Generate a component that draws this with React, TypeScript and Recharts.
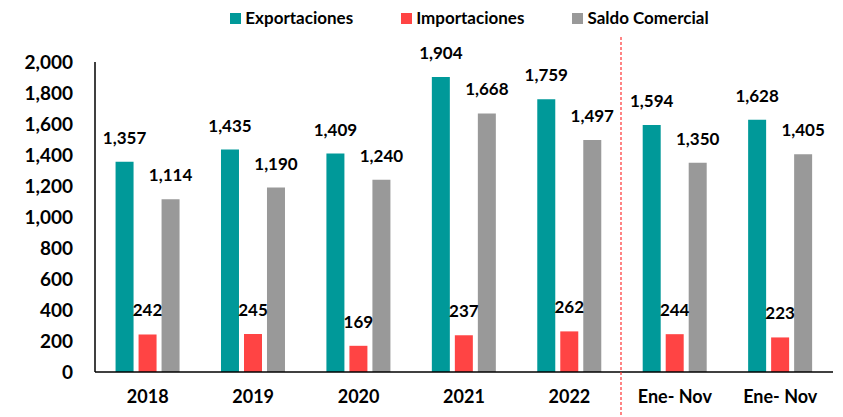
import React from "react";
import { BarChart, Bar, XAxis, YAxis, Legend, LabelList } from "recharts";

const categories = ["2018", "2019", "2020", "2021", "2022", "Ene- Nov", "Ene- Nov "];
const exportaciones = [1357, 1435, 1409, 1904, 1759, 1594, 1628];
const importaciones = [242, 245, 169, 237, 262, 244, 223];
const saldo = [1114, 1190, 1240, 1668, 1497, 1350, 1405];
const yTicks = [0, 200, 400, 600, 800, 1000, 1200, 1400, 1600, 1800, 2000];

const data = categories.map((c, i) => ({
  cat: c,
  exp: exportaciones[i],
  imp: importaciones[i],
  sal: saldo[i],
}));

const FONT = "Lato, 'Open Sans', sans-serif";
const fmt = (v: number) => v.toLocaleString("en-US");

const legendItems = [
  { label: "Exportaciones", color: "#009999" },
  { label: "Importaciones", color: "#FF4444" },
  { label: "Saldo Comercial", color: "#999999" },
];

const LegendContent = () => (
  <div style={{ display: "flex", justifyContent: "center", gap: 48, fontFamily: FONT, fontWeight: 700, fontSize: 17, color: "#000", paddingLeft: 88, height: 20, lineHeight: "20px" }}>
    {legendItems.map((it) => (
      <div key={it.label} style={{ display: "flex", alignItems: "center" }}>
        <span style={{ width: 11, height: 11, background: it.color, display: "inline-block", marginRight: 4 }} />
        <span>{it.label}</span>
      </div>
    ))}
  </div>
);

const labelStyle = { fontFamily: FONT, fontWeight: 700, fontSize: 17, fill: "#000" };

export default function App() {
  return (
    <div style={{ position: "relative", width: 835, height: 409 }}>
      <BarChart
        width={835}
        height={409}
        data={data}
        margin={{ top: 34, right: 10, bottom: 0, left: 0 }}
        barCategoryGap="19.5%"
        barGap={5}
      >
        <Legend verticalAlign="top" height={20} content={<LegendContent />} wrapperStyle={{ top: 0, left: 0, width: 835 }} />
        <XAxis
          dataKey="cat"
          height={45}
          tickLine={false}
          tickSize={0}
          tickMargin={18}
          axisLine={{ stroke: "#000", strokeWidth: 1.5 }}
          tick={{ fontFamily: FONT, fontWeight: 700, fontSize: 18, fill: "#000" }}
        />
        <YAxis
          width={87}
          domain={[0, 2000]}
          ticks={yTicks}
          interval={0}
          tickLine={false}
          tickSize={0}
          tickMargin={22}
          tickFormatter={fmt}
          axisLine={{ stroke: "#000", strokeWidth: 1.5 }}
          tick={{ fontFamily: FONT, fontWeight: 700, fontSize: 19, fill: "#000" }}
        />
        <Bar dataKey="exp" fill="#009999" isAnimationActive={false}>
          <LabelList dataKey="exp" position="top" offset={18} formatter={fmt} style={labelStyle} />
        </Bar>
        <Bar dataKey="imp" fill="#FF4444" isAnimationActive={false}>
          <LabelList dataKey="imp" position="top" offset={18} formatter={fmt} style={labelStyle} />
        </Bar>
        <Bar dataKey="sal" fill="#999999" isAnimationActive={false}>
          <LabelList dataKey="sal" position="top" offset={18} formatter={fmt} style={labelStyle} />
        </Bar>
      </BarChart>
      <svg
        width={4}
        height={380}
        style={{ position: "absolute", left: 611, top: 29 }}
      >
        <line x1={2} y1={0} x2={2} y2={380} stroke="#FF3333" strokeWidth={1.2} strokeDasharray="3 2" />
      </svg>
    </div>
  );
}
